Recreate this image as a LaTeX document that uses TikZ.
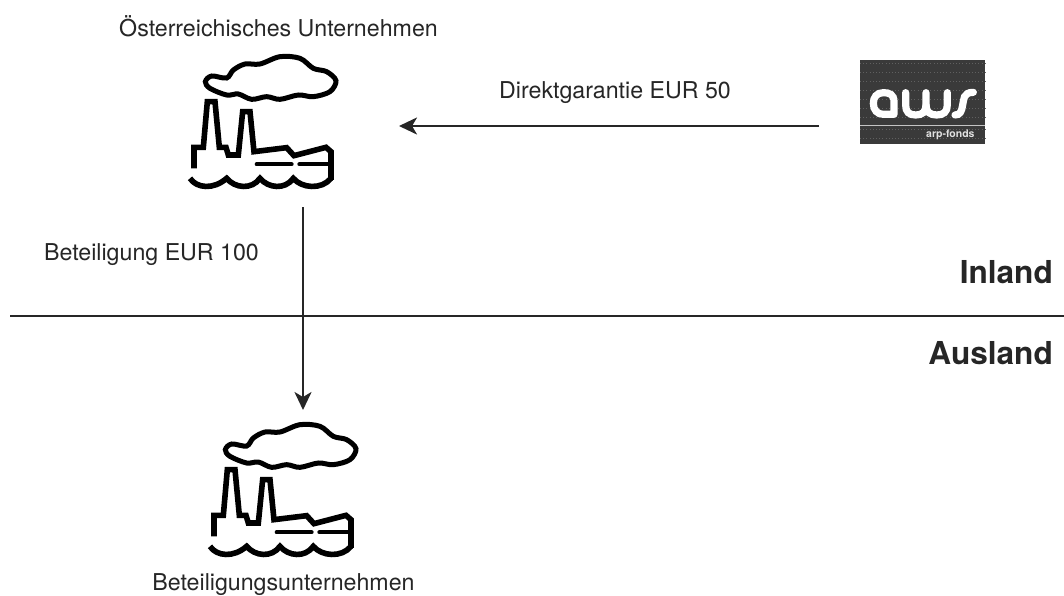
\documentclass[tikz,border=0pt]{standalone}
\usepackage{fontspec}
\setmainfont{TeX Gyre Heros}
\usetikzlibrary{arrows.meta}
\definecolor{ink}{HTML}{262626}
\definecolor{logobg}{HTML}{3A3A3A}
\tikzset{
  lbl/.style={font=\fontsize{23.2pt}{26pt}\selectfont,text=ink,inner sep=0pt},
  zone/.style={font=\bfseries\fontsize{31.6pt}{34pt}\selectfont,text=ink,inner sep=0pt,anchor=east},
  flow/.style={draw=ink,line width=2.4pt,-{Stealth[length=18pt,width=17pt,inset=5pt]}},
  rule/.style={draw=ink,line width=2.4pt},
  logoletter/.style={draw=white,line width=7.2pt,line cap=round},
  factory/.pic={
    \begin{scope}[x=.3333pt,y=-.3333pt,draw=black,line join=miter]
      \draw[line width=5pt] plot[smooth cycle,tension=.55] coordinates {(106,125)(125,108)(170,114)(190,90)(225,72)(270,72)(330,50)(390,55)(430,85)(470,95)(498,122)(480,155)(430,170)(385,165)(330,178)(290,170)(245,178)(205,162)(170,165)(120,145)};
      \draw[line width=5.6pt] (72,385)--(72,322)--(100,322)--(112,185)--(135,185)--(148,322)--(168,322)--(175,345)--(205,345)--(218,215)--(240,215)--(252,335)--(350,323)--(372,347)--(468,322)--(483,335)--(483,420);
      \draw[line width=4pt,line cap=round] (260,373)--(365,373);
      \draw[line width=4pt,line cap=round] (388,373)--(480,373);
      \draw[line width=5.6pt] (60,415) .. controls (80,445) and (130,450) .. (170,415) .. controls (195,445) and (245,450) .. (270,415) .. controls (295,445) and (345,450) .. (370,415) .. controls (395,445) and (455,450) .. (483,415);
    \end{scope}
  }
}
\begin{document}
\begin{tikzpicture}[x=1pt,y=-1pt]
\useasboundingbox (0,0) rectangle (1064,595);
\pic (upper) at (170,40) {factory};
\pic (lower) at (190,408) {factory};
\node[lbl] (t1) at (278.5,26.5) {Österreichisches Unternehmen};
\node[lbl] (t2) at (615,93) {Direktgarantie EUR 50};
\node[lbl] (t3) at (151.5,255) {Beteiligung EUR 100};
\node[lbl] (t4) at (283.5,585) {Beteiligungsunternehmen};
\node[zone] (inl) at (1053,272) {Inland};
\node[zone] (ausl) at (1053,353) {Ausland};
% logo
\node[fill=logobg,minimum width=125pt,minimum height=84pt,inner sep=0pt,outer sep=0pt] (logo) at (922.5,102) {};
\foreach \yy in {63,72,81,90,99,108,117,129,138} {
  \draw[gray!55!logobg,line width=.7pt,dash pattern=on .8pt off 2.4pt] (860,\yy)--(985,\yy);
}
\begin{scope}[shift={(840,50)},x=.3333pt,y=-.3333pt]
  \draw[logoletter] (162,193) -- (162,155) .. controls (162,133) and (148,128) .. (130,128) .. controls (110,128) and (100,142) .. (100,160) .. controls (100,180) and (112,193) .. (130,193) -- (162,193);
  \draw[logoletter] (197,128) -- (197,165) .. controls (197,186) and (207,195) .. (227,195) .. controls (247,195) and (258,186) .. (258,165) -- (258,128);
  \draw[logoletter] (258,165) .. controls (258,186) and (270,195) .. (290,195) .. controls (310,195) and (322,186) .. (322,165) -- (322,128);
  \draw[logoletter] (400,127) .. controls (368,127) and (372,150) .. (368,165) .. controls (365,185) and (360,195) .. (345,195);
  \draw[white!70!logobg,line width=1.5pt] (60,226) -- (435,226);
  \node[font=\bfseries\fontsize{10.5pt}{12pt}\selectfont,text=white!85!logobg,inner sep=0pt] (fonds) at (331,255) {arp-fonds};
\end{scope}
% connectors
\coordinate (gs) at (819,126);
\coordinate (ge) at (399,126);
\coordinate (bs) at (303,207);
\coordinate (be) at (303,410);
\coordinate (rl) at (10,316);
\coordinate (rr) at (1064,316);
\draw[flow] (gs) -- (ge);
\draw[flow] (bs) -- (be);
\draw[rule] (rl) -- (rr);
\end{tikzpicture}
\end{document}
